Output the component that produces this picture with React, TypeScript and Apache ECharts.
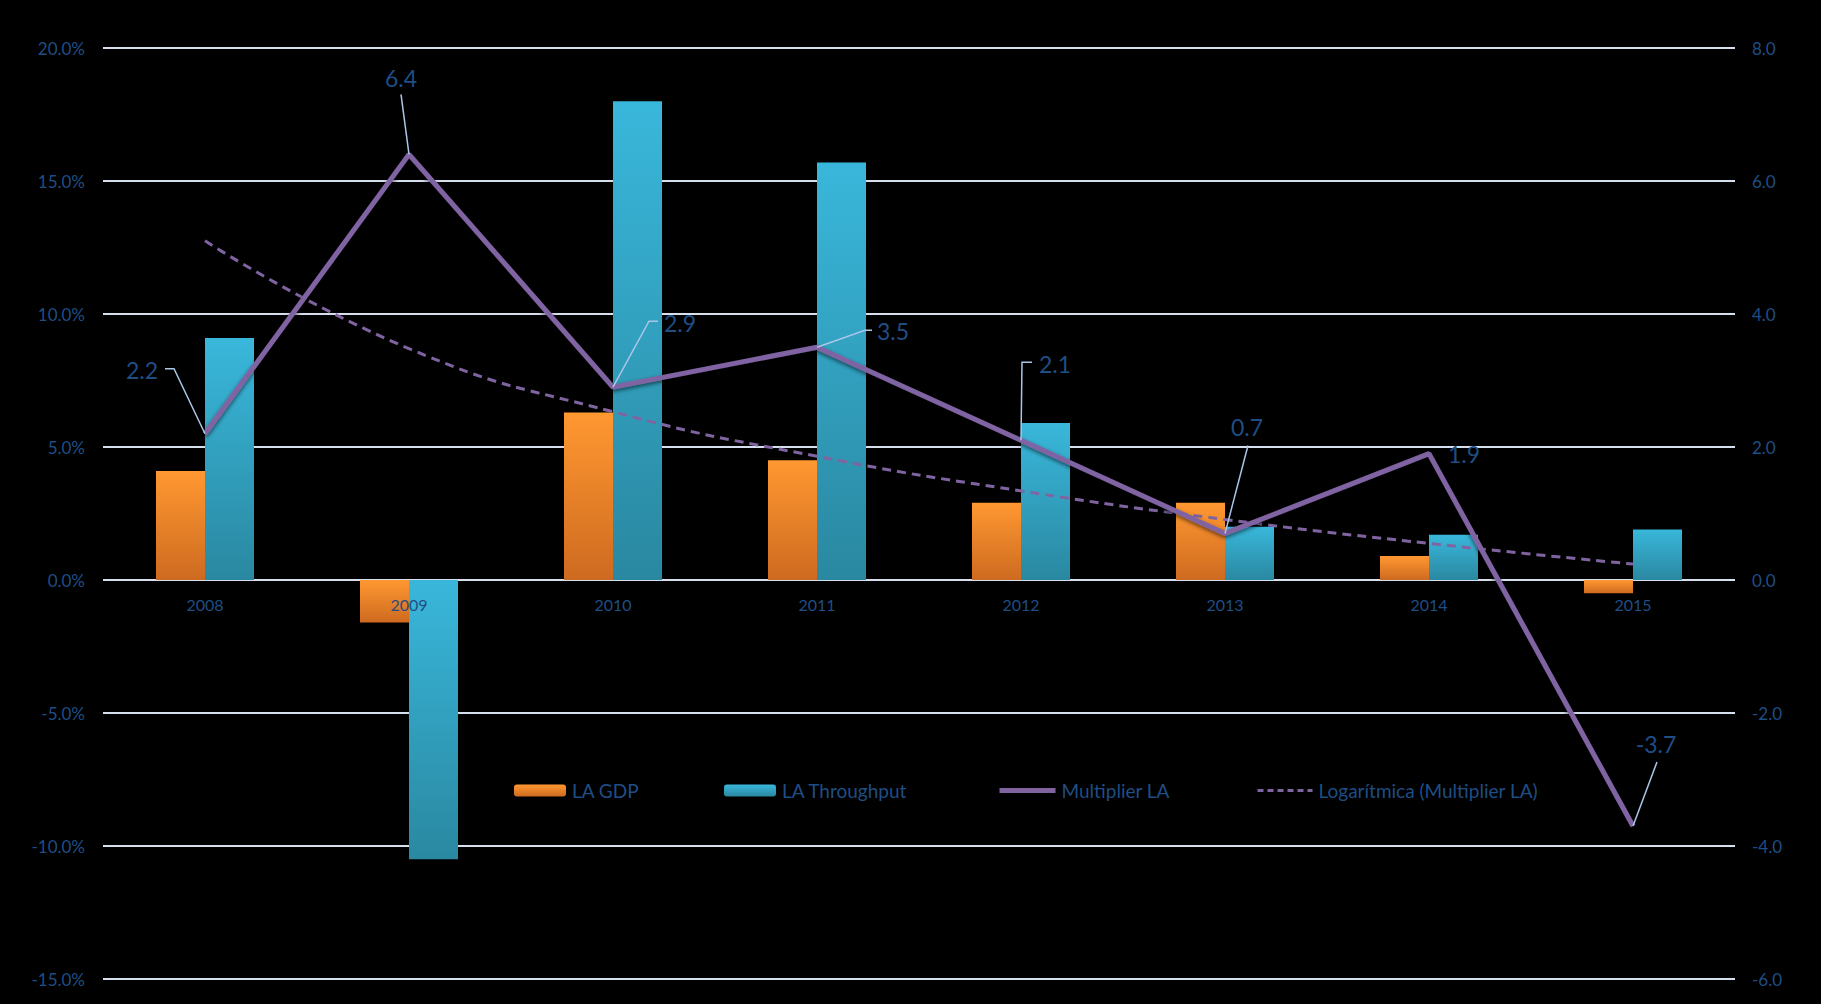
import React, { useEffect, useRef } from "react";
import * as echarts from "echarts";

const categories = ["2008", "2009", "2010", "2011", "2012", "2013", "2014", "2015"];
const laGdp = [4.1, -1.6, 6.3, 4.5, 2.9, 2.9, 0.9, -0.5];
const laThroughput = [9.1, -10.5, 18.0, 15.7, 5.9, 2.0, 1.7, 1.9];
const multiplierLa = [2.2, 6.4, 2.9, 3.5, 2.1, 0.7, 1.9, -3.7];
const logTrend = [5.1, 3.48, 2.53, 1.86, 1.34, 0.91, 0.55, 0.24];

const seriesNames = ["LA GDP", "LA Throughput", "Multiplier LA", "Logarítmica (Multiplier LA)"];

// label layout (offsets relative to each multiplier point, in px)
const leaderPts: number[][][] = [
  [[-31, -65], [-40, -65]],
  [[-8, -60]],
  [[36, -66], [45, -66]],
  [[48, -17], [55, -17]],
  [[1, -78], [11, -78]],
  [[23, -88]],
  [],
  [[24, -64]],
];
const labelOffsets = [[-63, -64], [-8, -76], [67, -64], [76, -16], [34, -76], [22, -106], [35, 0], [23, -82]];

const FONT = "Lato, 'Open Sans', sans-serif";
const TEXT = "#1F4E85";
const PURPLE = "#8064A2";
const GRID = "#D5DFEE";

export default function App() {
  const ref = useRef<HTMLDivElement>(null);

  useEffect(() => {
    if (!ref.current) return;
    const chart = echarts.init(ref.current, undefined, { renderer: "svg" });

    const orange = new echarts.graphic.LinearGradient(0, 0, 0, 1, [
      { offset: 0, color: "#FF9831" },
      { offset: 1, color: "#CE6A20" },
    ]);
    const cyan = new echarts.graphic.LinearGradient(0, 0, 0, 1, [
      { offset: 0, color: "#39B7DB" },
      { offset: 1, color: "#2A88A1" },
    ]);

    const legendBase = {
      top: 781,
      padding: 0,
      itemGap: 0,
      textStyle: { color: TEXT, fontSize: 19, fontFamily: FONT, padding: [0, 0, 0, 1] },
      selectedMode: false,
    };

    chart.setOption({
      animation: false,
      backgroundColor: "#000000",
      grid: { left: 103, right: 86, top: 48, bottom: 25, containLabel: false },
      legend: [
        { ...legendBase, left: 514, data: [seriesNames[0]], itemWidth: 52, itemHeight: 12 },
        { ...legendBase, left: 724, data: [seriesNames[1]], itemWidth: 52, itemHeight: 12 },
        {
          ...legendBase,
          left: 997,
          data: [seriesNames[2]],
          itemWidth: 56,
          itemHeight: 12,
          itemStyle: { opacity: 0 },
          lineStyle: { width: 5, color: PURPLE },
        },
        {
          ...legendBase,
          left: 1256,
          data: [seriesNames[3]],
          itemWidth: 55,
          itemHeight: 12,
          itemStyle: { opacity: 0 },
          lineStyle: { width: 3, color: PURPLE, type: [6, 4] },
        },
      ],
      xAxis: {
        type: "category",
        data: categories,
        axisLine: { show: false },
        axisTick: { show: false },
        axisLabel: { show: false },
        splitLine: { show: false },
      },
      yAxis: [
        {
          type: "value",
          min: -15,
          max: 20,
          interval: 5,
          axisLine: { show: false },
          axisTick: { show: false },
          axisLabel: {
            color: TEXT,
            fontSize: 17,
            fontFamily: FONT,
            margin: 18,
            formatter: (v: number) => v.toFixed(1) + "%",
          },
          splitLine: { show: true, lineStyle: { color: GRID, width: 2 } },
        },
        {
          type: "value",
          min: -6,
          max: 8,
          interval: 2,
          position: "right",
          axisLine: { show: false },
          axisTick: { show: false },
          axisLabel: {
            color: TEXT,
            fontSize: 17,
            fontFamily: FONT,
            margin: 17,
            formatter: (v: number) => v.toFixed(1),
          },
          splitLine: { show: false },
        },
      ],
      series: [
        {
          name: seriesNames[0],
          type: "bar",
          data: laGdp,
          barWidth: 49,
          barGap: "0%",
          itemStyle: { color: orange },
          z: 2,
        },
        {
          name: seriesNames[1],
          type: "bar",
          data: laThroughput,
          barWidth: 49,
          barGap: "0%",
          itemStyle: { color: cyan },
          z: 2,
        },
        {
          name: seriesNames[3],
          type: "line",
          yAxisIndex: 1,
          data: logTrend,
          smooth: true,
          symbol: "none",
          lineStyle: { color: PURPLE, width: 3, type: [9, 6] },
          itemStyle: { color: PURPLE },
          z: 3,
        },
        {
          name: seriesNames[2],
          type: "line",
          yAxisIndex: 1,
          data: multiplierLa,
          symbol: "none",
          lineStyle: {
            color: PURPLE,
            width: 5,
            shadowColor: "rgba(0,0,0,0.6)",
            shadowBlur: 4,
            shadowOffsetY: 2,
          },
          itemStyle: { color: PURPLE },
          z: 4,
        },
        {
          // category labels sitting just under the zero line
          type: "custom",
          data: categories.map((c, i) => [i, 0]),
          z: 9,
          silent: true,
          renderItem: (params: any, api: any) => {
            const i = params.dataIndex;
            const p = api.coord([api.value(0), 0]);
            return {
              type: "text",
              x: p[0],
              y: p[1] + 24,
              style: {
                text: categories[i],
                fill: TEXT,
                fontSize: 16,
                fontFamily: FONT,
                align: "center",
                verticalAlign: "middle",
              },
            };
          },
        },
        {
          type: "custom",
          yAxisIndex: 1,
          data: multiplierLa.map((v, i) => [i, v]),
          z: 10,
          silent: true,
          renderItem: (params: any, api: any) => {
            const i = params.dataIndex;
            const p = api.coord([api.value(0), api.value(1)]);
            const px = p[0];
            const py = p[1];
            const children: any[] = [];
            if (leaderPts[i].length) {
              children.push({
                type: "polyline",
                shape: {
                  points: [[px, py], ...leaderPts[i].map(([dx, dy]) => [px + dx, py + dy])],
                },
                style: { stroke: "#A9C6E8", lineWidth: 1.5, fill: null },
              });
            }
            const lo = labelOffsets[i];
            children.push({
              type: "text",
              x: px + lo[0],
              y: py + lo[1],
              style: {
                text: multiplierLa[i].toFixed(1),
                fill: TEXT,
                fontSize: 23,
                fontFamily: FONT,
                align: "center",
                verticalAlign: "middle",
              },
            });
            return { type: "group", children };
          },
        },
      ],
    });

    return () => chart.dispose();
  }, []);

  return (
    <div
      ref={ref}
      style={{ position: "fixed", left: 0, top: 0, width: 1821, height: 1004, background: "#000" }}
    />
  );
}
